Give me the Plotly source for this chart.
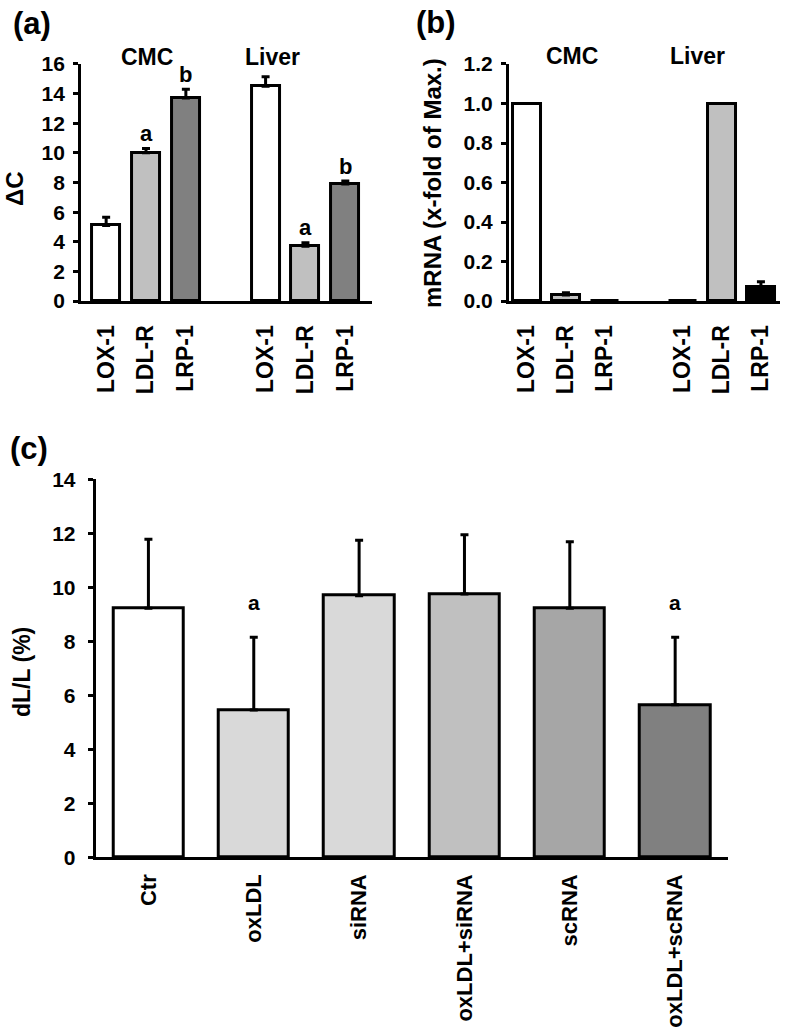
import plotly.graph_objects as go

# ---------------- data ----------------
genes = ["LOX-1", "LDL-R", "LRP-1"]
tissues = ["CMC", "Liver"]

a_values = [5.1, 10.0, 13.7, 14.5, 3.7, 7.9]
a_errors = [0.55, 0.3, 0.6, 0.63, 0.23, 0.2]
a_letters = ["", "a", "b", "", "a", "b"]

b_values = [1.0, 0.03, 0.0, 0.0, 1.0, 0.07]
b_errors = [0.0, 0.012, 0.0, 0.0, 0.0, 0.028]

c_categories = ["Ctr", "oxLDL", "siRNA", "oxLDL+siRNA", "scRNA", "oxLDL+scRNA"]
c_values = [9.23, 5.46, 9.69, 9.75, 9.23, 5.65]
c_errors = [2.55, 2.69, 2.05, 2.2, 2.46, 2.5]
c_letters = ["", "a", "", "", "", "a"]

a_ticks = [0, 2, 4, 6, 8, 10, 12, 14, 16]
b_ticks = [0.0, 0.2, 0.4, 0.6, 0.8, 1.0, 1.2]
c_ticks = [0, 2, 4, 6, 8, 10, 12, 14]

# ---------------- style ----------------
FONT = "Arial, Liberation Sans, sans-serif"
gene_colors_a = ["#ffffff", "#c0c0c0", "#808080"]
gene_colors_b = ["#ffffff", "#c0c0c0", "#000000"]
c_colors = ["#ffffff", "#d9d9d9", "#d9d9d9", "#c0c0c0", "#a6a6a6", "#808080"]

# positions: two groups of three with one empty slot between
pos = [g * 4 + i for g in range(len(tissues)) for i in range(len(genes))]
labels_ab = [gname for _ in tissues for gname in genes]

fig = go.Figure()

def bar(x, y, err, colors, xa, ya, width):
    return go.Bar(
        x=x, y=y, xaxis=xa, yaxis=ya, width=width,
        marker=dict(color=colors, line=dict(color="black", width=3)),
        error_y=dict(type="data", array=err, arrayminus=[0] * len(err),
                     symmetric=False, color="black", thickness=3, width=4),
        showlegend=False, hoverinfo="skip",
    )

fig.add_trace(bar(pos, a_values, a_errors, gene_colors_a * 2, "x", "y", 0.7))
fig.add_trace(bar(pos, b_values, b_errors, gene_colors_b * 2, "x2", "y2", 0.72))
fig.add_trace(bar(list(range(len(c_categories))), c_values, c_errors, c_colors, "x3", "y3", 0.667))

axis_common = dict(showline=True, linecolor="black", linewidth=3, showgrid=False,
                   zeroline=False, fixedrange=True, automargin=False)

fig.update_layout(
    width=786, height=1032, autosize=False,
    margin=dict(l=0, r=0, t=0, b=0, pad=0),
    paper_bgcolor="white", plot_bgcolor="white",
    font=dict(family=FONT, color="black"),
    bargap=0,
    xaxis=dict(domain=[0.1031, 0.4733], range=[-0.63, 6.67], tickmode="array",
               tickvals=pos, ticktext=labels_ab, tickangle=-90, ticks="",
               ticklabelstandoff=12,
               tickfont=dict(size=23, weight="bold"), anchor="y", **axis_common),
    yaxis=dict(domain=[0.7083, 0.938], range=[0, 16], tickvals=a_ticks,
               ticks="outside", ticklen=5, tickwidth=3, tickcolor="black",
               ticklabelstandoff=4,
               tickfont=dict(size=21, weight="bold"), anchor="x", **axis_common),
    xaxis2=dict(domain=[0.6476, 0.9924], range=[-0.46, 6.49], tickmode="array",
                tickvals=pos, ticktext=labels_ab, tickangle=-90, ticks="",
                ticklabelstandoff=12,
                tickfont=dict(size=23, weight="bold"), anchor="y2", **axis_common),
    yaxis2=dict(domain=[0.7083, 0.938], range=[0, 1.2], tickvals=b_ticks,
                tickformat=".1f", ticks="outside", ticklen=5, tickwidth=3,
                tickcolor="black", ticklabelstandoff=4,
                tickfont=dict(size=21, weight="bold"),
                anchor="x2", **axis_common),
    xaxis3=dict(domain=[0.1218, 0.926], range=[-0.5, 5.5], tickmode="array",
                tickvals=list(range(len(c_categories))), ticktext=c_categories,
                tickangle=-90, ticks="", ticklabelstandoff=5,
                tickfont=dict(size=22, weight="bold"),
                anchor="y3", **axis_common),
    yaxis3=dict(domain=[0.1691, 0.5356], range=[0, 14], tickvals=c_ticks,
                ticks="outside", ticklen=5, tickwidth=3, tickcolor="black",
                ticklabelstandoff=8,
                tickfont=dict(size=21, weight="bold"), anchor="x3", **axis_common),
)

ann = []
def text(x, y, s, size, xref="paper", yref="paper", angle=0, **kw):
    ann.append(dict(x=x, y=y, xref=xref, yref=yref, text=s, showarrow=False,
                    textangle=angle, xanchor="center", yanchor="middle",
                    font=dict(size=size, family=FONT, weight="bold"), **kw))

# panel labels
text(32 / 786, 1 - 23 / 1032, "(a)", 31)
text(436 / 786, 1 - 22 / 1032, "(b)", 31)
text(29 / 786, 1 - 448 / 1032, "(c)", 31)

# axis titles
text(14 / 786, 1 - 189 / 1032, "ΔC", 24, angle=-90)
text(433 / 786, 1 - 183 / 1032, "mRNA (x-fold of Max.)", 24, angle=-90)
text(22 / 786, 1 - 672 / 1032, "dL/L (%)", 23, angle=-90)

# group labels
text(147 / 786, 1 - 57 / 1032, tissues[0], 23)
text(272 / 786, 1 - 57 / 1032, tissues[1], 23)
text(572 / 786, 1 - 56 / 1032, tissues[0], 23)
text(697 / 786, 1 - 56 / 1032, tissues[1], 23)

# significance letters
for p, v, e, l in zip(pos, a_values, a_errors, a_letters):
    if l:
        text(p, v + e, l, 22, xref="x", yref="y", yshift=15)
for i, (v, e, l) in enumerate(zip(c_values, c_errors, c_letters)):
    if l:
        text(i, v + e, l, 21, xref="x3", yref="y3", yshift=35)

fig.update_layout(annotations=ann)
fig.write_html("out.html", config={"displayModeBar": False},
               post_script="document.body.style.margin='0px';")
